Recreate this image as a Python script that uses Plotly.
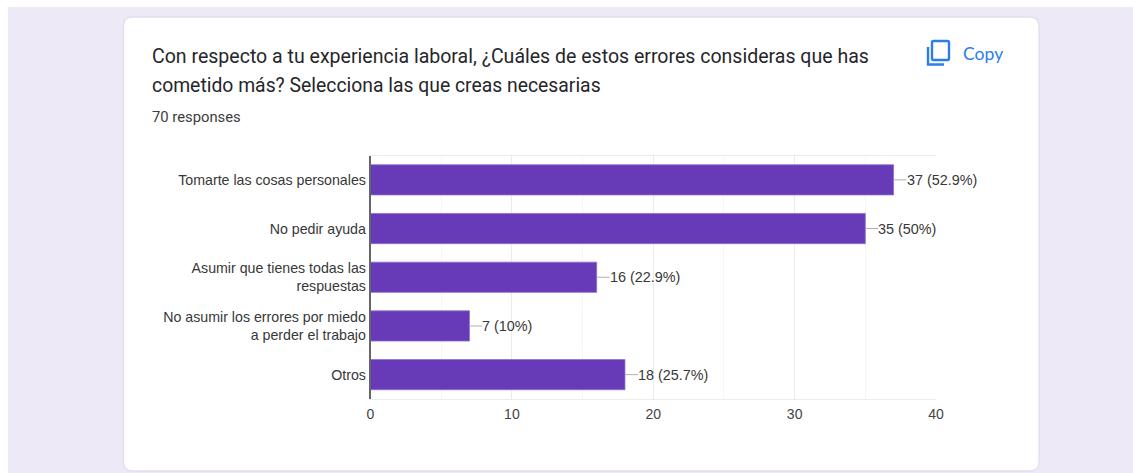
import plotly.graph_objects as go

W, H = 1133, 473

categories = [
    "Tomarte las cosas personales",
    "No pedir ayuda",
    "Asumir que tienes todas las<br>respuestas",
    "No asumir los errores por miedo<br>a perder el trabajo",
    "Otros",
]
counts = [37, 35, 16, 7, 18]
value_labels = ["37 (52.9%)", "35 (50%)", "16 (22.9%)", "7 (10%)", "18 (25.7%)"]
x_ticks = [0, 10, 20, 30, 40]

title_lines = [
    "Con respecto a tu experiencia laboral, ¿Cuáles de estos errores consideras que has",
    "cometido más? Selecciona las que creas necesarias",
]
responses_text = "70 responses"
copy_text = "Copy"

BAR = "#673ab7"
PAGE = "#ede9f7"
CARD_EDGE = "#e2dfec"
BLUE = "#2b7de9"


def px(x):
    return x / W


def py(y):
    return 1 - y / H


def rounded_rect(x0, y0, x1, y1, r):
    return (
        f"M {px(x0 + r)} {py(y0)} L {px(x1 - r)} {py(y0)} "
        f"Q {px(x1)} {py(y0)} {px(x1)} {py(y0 + r)} L {px(x1)} {py(y1 - r)} "
        f"Q {px(x1)} {py(y1)} {px(x1 - r)} {py(y1)} L {px(x0 + r)} {py(y1)} "
        f"Q {px(x0)} {py(y1)} {px(x0)} {py(y1 - r)} L {px(x0)} {py(y0 + r)} "
        f"Q {px(x0)} {py(y0)} {px(x0 + r)} {py(y0)} Z"
    )


def paper_shape(**kw):
    return dict(xref="paper", yref="paper", **kw)


fig = go.Figure(
    go.Bar(
        x=counts,
        y=categories,
        orientation="h",
        marker=dict(color=BAR, line=dict(color="#8f6fd0", width=0.8)),
        hoverinfo="skip",
    )
)

shapes = [
    # page backdrop and white card
    paper_shape(type="rect", x0=px(8), x1=1, y0=0, y1=py(7), fillcolor=PAGE, line_width=0, layer="below"),
    paper_shape(type="path", path=rounded_rect(123.5, 17, 1039, 471, 9), fillcolor="white",
                line=dict(color=CARD_EDGE, width=1.3), layer="below"),
    # copy icon: front sheet and the back sheet's L-shaped edge
    paper_shape(type="path", path=rounded_rect(932, 41, 949, 60, 1.5), line=dict(color=BLUE, width=2.4)),
    paper_shape(type="path",
                path=f"M {px(928)} {py(47)} L {px(928)} {py(64.5)} L {px(944)} {py(64.5)}",
                line=dict(color=BLUE, width=2.4)),
]

annotations = [
    dict(x=px(150), y=py(56), xref="paper", yref="paper", text=title_lines[0], showarrow=False,
         xanchor="left", yanchor="middle", font=dict(family="Roboto", size=19.55, color="#26262a")),
    dict(x=px(150), y=py(85), xref="paper", yref="paper", text=title_lines[1], showarrow=False,
         xanchor="left", yanchor="middle", font=dict(family="Roboto", size=19.35, color="#26262a")),
    dict(x=px(150), y=py(117), xref="paper", yref="paper", text=responses_text, showarrow=False,
         xanchor="left", yanchor="middle", font=dict(family="Roboto", size=14.8, color="#3c3c40")),
    dict(x=px(961), y=py(53), xref="paper", yref="paper", text=copy_text, showarrow=False,
         xanchor="left", yanchor="middle", font=dict(family="Lato", size=17.6, color=BLUE)),
]

# value labels joined to the bar ends by short leader lines
for cat, val, label in zip(categories, counts, value_labels):
    annotations.append(
        dict(x=val, y=cat, xref="x", yref="y", text=label, showarrow=True, arrowhead=0,
             arrowwidth=1, arrowcolor="#b0b0b0", ax=13, ay=0, axref="pixel", ayref="pixel",
             xanchor="left", yanchor="middle", borderpad=0, borderwidth=0,
             font=dict(family="Liberation Sans", size=14.4, color="#383838"))
    )

fig.update_layout(
    width=W,
    height=H,
    autosize=False,
    margin=dict(l=0, r=0, t=0, b=0, autoexpand=False),
    paper_bgcolor="white",
    plot_bgcolor="rgba(0,0,0,0)",
    showlegend=False,
    bargap=0.38,
    shapes=shapes,
    annotations=annotations,
    xaxis=dict(
        domain=[px(370.5), px(936)],
        range=[0, 40],
        tickvals=x_ticks,
        showgrid=True,
        gridcolor="#ebebeb",
        gridwidth=1,
        minor=dict(dtick=5, showgrid=True, gridcolor="#f6f6f6", gridwidth=1),
        showline=True,
        linecolor="#ececec",
        mirror=True,
        zeroline=False,
        ticks="outside",
        ticklen=2,
        tickcolor="rgba(0,0,0,0)",
        tickfont=dict(family="Liberation Sans", size=14, color="#444444"),
    ),
    yaxis=dict(
        domain=[py(399), py(155.5)],
        autorange="reversed",
        categoryorder="array",
        categoryarray=categories,
        showgrid=False,
        showline=True,
        linecolor="#666666",
        linewidth=1.5,
        zeroline=False,
        ticks="",
        tickfont=dict(family="Liberation Sans", size=14.2, color="#383838"),
    ),
)

fig.write_html("out.html", config=dict(displayModeBar=False))
